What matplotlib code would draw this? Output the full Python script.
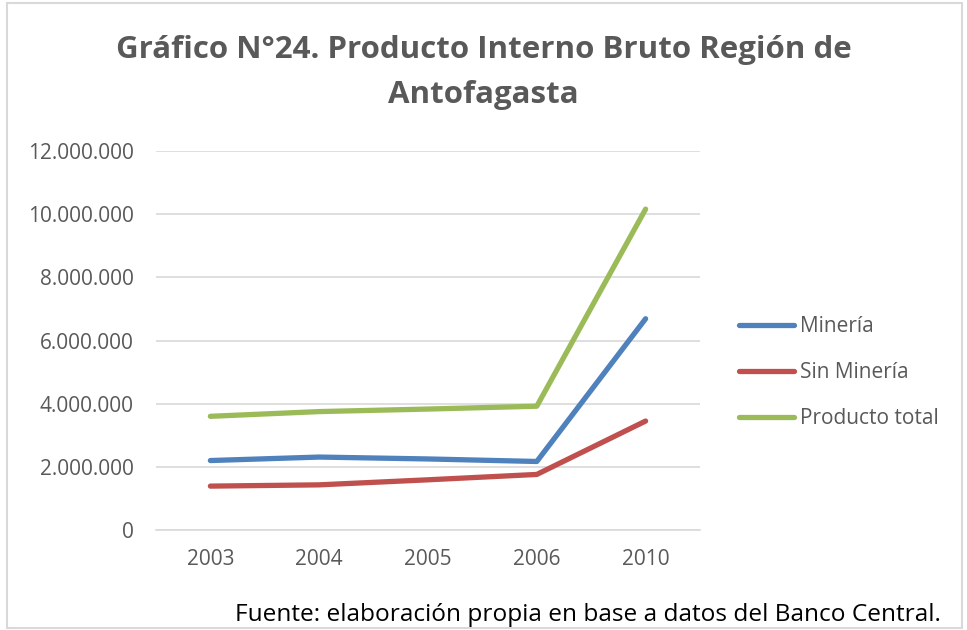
import matplotlib.pyplot as plt
from matplotlib.ticker import FuncFormatter
from matplotlib.patches import Rectangle

plt.rcParams['font.family'] = ['Open Sans', 'DejaVu Sans']

years = ['2003', '2004', '2005', '2006', '2010']
mineria = [2200000, 2310000, 2250000, 2170000, 6690000]
sin_mineria = [1390000, 1430000, 1590000, 1760000, 3450000]
total = [3600000, 3750000, 3830000, 3920000, 10160000]

fig = plt.figure(figsize=(9.67, 6.3), dpi=100)
ax = fig.add_axes([0.1613, 0.1587, 0.5626, 0.6016])

x = range(len(years))
ax.plot(x, mineria, color='#4F81BD', lw=3.8, solid_capstyle='round', label='Minería')
ax.plot(x, sin_mineria, color='#C0504D', lw=3.8, solid_capstyle='round', label='Sin Minería')
ax.plot(x, total, color='#9BBB59', lw=3.8, solid_capstyle='round', label='Producto total')

ax.set_xlim(-0.5, len(years) - 0.5)
ax.set_ylim(0, 12000000)
ax.set_yticks(range(0, 12000001, 2000000))
ax.yaxis.set_major_formatter(FuncFormatter(lambda v, p: f'{int(v):,}'.replace(',', '.')))
ax.set_xticks(list(x))
ax.set_xticklabels(years)
ax.grid(axis='y', color='#D9D9D9', lw=1.2)
ax.set_axisbelow(True)
for s in ['top', 'right', 'left']:
    ax.spines[s].set_visible(False)
ax.spines['bottom'].set_color('#D9D9D9')
ax.spines['bottom'].set_linewidth(1.2)
ax.tick_params(length=0, labelsize=15, colors='#595959')
ax.tick_params(axis='y', pad=16)
ax.tick_params(axis='x', pad=14)

ax.legend(loc='center left', bbox_to_anchor=(1.038, 0.415), frameon=False,
          fontsize=15, labelcolor='#595959', handlelength=2.64, handletextpad=0.25,
          labelspacing=1.2)

fig.text(0.5, 0.885, 'Gráfico N°24. Producto Interno Bruto Región de\nAntofagasta',
         ha='center', va='center', fontsize=22.5, fontweight='bold', color='#595959',
         linespacing=1.65)
fig.text(0.243, 0.024, 'Fuente: elaboración propia en base a datos del Banco Central.',
         ha='left', va='center', fontsize=17.6, color='black')

fig.patches.append(Rectangle((0.007, 0.003), 0.988, 0.992, transform=fig.transFigure,
                             fill=False, edgecolor='#D9D9D9', lw=1.5))

fig.savefig('out.png', dpi=100)
